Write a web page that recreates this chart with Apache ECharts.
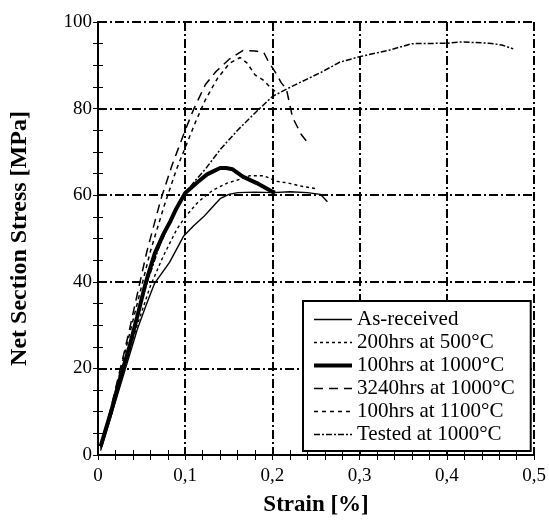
<!DOCTYPE html>
<html>
<head>
<meta charset="utf-8">
<script src="https://cdn.jsdelivr.net/npm/echarts@6/dist/echarts.min.js"></script>
<style>
  html, body { margin: 0; padding: 0; background: #fff; }
  #chart { width: 549px; height: 523px; }
</style>
</head>
<body>
<div id="chart"></div>
<script>
// tick labels
var xTickLabels = ["0", "0,1", "0,2", "0,3", "0,4", "0,5"];
var yTickLabels = ["0", "20", "40", "60", "80", "100"];

// [strain %, stress MPa]
var asReceived = [
  [0.003, 1], [0.015, 9], [0.03, 19], [0.045, 29], [0.055, 34.5], [0.065, 39.7],
  [0.082, 44.5], [0.098, 50.5], [0.11, 53], [0.121, 55], [0.13, 57], [0.14, 59.2],
  [0.15, 60.2], [0.16, 60.6], [0.18, 60.7], [0.2, 60.6], [0.22, 60.8], [0.24, 60.6],
  [0.255, 60.2], [0.263, 58.5]
];
var hrs200At500 = [
  [0.003, 1.5], [0.015, 9], [0.03, 20], [0.045, 30], [0.06, 39], [0.075, 46],
  [0.09, 52], [0.1, 55], [0.115, 58.5], [0.132, 61.2], [0.148, 62.8], [0.16, 63.5],
  [0.174, 64.5], [0.19, 64.5], [0.205, 63.2], [0.218, 62.8], [0.235, 62], [0.25, 61.5]
];
var hrs100At1000 = [
  [0.003, 2], [0.015, 10], [0.025, 17.5], [0.036, 25], [0.045, 32], [0.055, 40],
  [0.065, 46.5], [0.075, 51], [0.083, 54], [0.09, 57], [0.1, 60.5], [0.114, 63],
  [0.125, 64.8], [0.132, 65.5], [0.14, 66.3], [0.147, 66.3], [0.154, 66],
  [0.166, 64.3], [0.182, 62.8], [0.2, 60.8], [0.203, 60.6]
];
var hrs3240At1000 = [
  [0.003, 2], [0.015, 11], [0.028, 22], [0.035, 28], [0.046, 38], [0.056, 47],
  [0.072, 59], [0.085, 67], [0.1, 75], [0.11, 80], [0.123, 85.5], [0.135, 88.5],
  [0.151, 91.5], [0.166, 93.4], [0.18, 93.3], [0.19, 93], [0.195, 91], [0.203, 88.5],
  [0.21, 86], [0.216, 84.5], [0.223, 78], [0.233, 74], [0.243, 71.5]
];
var hrs100At1100 = [
  [0.003, 2], [0.015, 10.5], [0.03, 23], [0.045, 35], [0.06, 47], [0.075, 57],
  [0.09, 66], [0.1, 71], [0.112, 77], [0.123, 82], [0.137, 87], [0.151, 90.5],
  [0.163, 91.8], [0.171, 90.5], [0.18, 87.8], [0.19, 86.5], [0.197, 85], [0.203, 84]
];
var testedAt1000 = [
  [0.003, 2], [0.015, 10.5], [0.03, 21], [0.045, 32], [0.055, 39], [0.07, 48],
  [0.085, 55], [0.1, 60.5], [0.112, 63.5], [0.123, 66], [0.14, 70.5], [0.16, 75],
  [0.18, 79], [0.2, 82.8], [0.223, 85.2], [0.256, 88.4], [0.277, 90.7], [0.3, 92],
  [0.334, 93.5], [0.36, 95], [0.4, 95.1], [0.417, 95.4], [0.448, 95.1],
  [0.463, 94.7], [0.476, 93.8]
];

var seriesNames = [
  "As-received",
  "200hrs at 500°C",
  "100hrs at 1000°C",
  "3240hrs at 1000°C",
  "100hrs at 1100°C",
  "Tested at 1000°C"
];

var font = "Liberation Serif";
var gridDash = [9, 3, 2, 3];
var styles = [
  { width: 1.4, type: "solid" },
  { width: 1.4, type: [3, 3] },
  { width: 4, type: "solid" },
  { width: 1.5, type: [9, 6] },
  { width: 1.5, type: [4, 4] },
  { width: 1.5, type: [6, 2, 2, 2] }
];

function line(i, data) {
  return {
    name: seriesNames[i],
    type: "line",
    data: data,
    symbol: "none",
    smooth: false,
    animation: false,
    itemStyle: { color: "#000" },
    lineStyle: { color: "#000", width: styles[i].width, type: styles[i].type }
  };
}

var myChart = echarts.init(document.getElementById("chart"));

var option = {
  animation: false,
  backgroundColor: "#fff",
  grid: { left: 97, right: 13, top: 22, bottom: 68, containLabel: false },
  legend: {
    data: seriesNames.map(function (n, i) {
      return {
        name: n,
        itemStyle: { opacity: 0 },
        lineStyle: { color: "#000", width: styles[i].width, type: styles[i].type }
      };
    }),
    orient: "vertical",
    left: 303,
    top: 301,
    padding: [8, 16, 6, 9],
    itemWidth: 38,
    itemHeight: 10,
    itemGap: 2,
    backgroundColor: "#fff",
    borderColor: "#000",
    borderWidth: 2,
    textStyle: { fontFamily: font, fontSize: 21, color: "#000", lineHeight: 21 }
  },
  xAxis: [
    {
      type: "value",
      min: 0,
      max: 0.5,
      interval: 0.1,
      name: "Strain [%]",
      nameLocation: "middle",
      nameGap: 39,
      nameTextStyle: { fontFamily: font, fontSize: 23, fontWeight: "bold", color: "#000" },
      axisLine: { lineStyle: { color: "#000", width: 2 } },
      axisTick: { inside: true, length: 5, lineStyle: { color: "#000" } },
      minorTick: { show: true, splitNumber: 5, length: 5, lineStyle: { color: "#000" } },
      axisLabel: {
        margin: 12,
        fontFamily: font,
        fontSize: 19,
        color: "#000",
        showMaxLabel: true,
        formatter: function (v) { return xTickLabels[Math.round(v * 10)]; }
      },
      splitLine: { show: true, lineStyle: { color: "#000", width: 2, type: gridDash } }
    },
    {
      type: "value",
      position: "top",
      min: 0,
      max: 0.5,
      interval: 0.1,
      axisLine: { lineStyle: { color: "#000", width: 2 } },
      axisTick: { inside: true, length: 5, lineStyle: { color: "#000" } },
      minorTick: { show: true, splitNumber: 5, length: 5, lineStyle: { color: "#000" } },
      axisLabel: { show: false },
      splitLine: { show: false }
    }
  ],
  yAxis: [
    {
      type: "value",
      min: 0,
      max: 100,
      interval: 20,
      name: "Net Section Stress [MPa]",
      nameLocation: "middle",
      nameGap: 66,
      nameTextStyle: { fontFamily: font, fontSize: 24, fontWeight: "bold", color: "#000" },
      axisLine: { lineStyle: { color: "#000", width: 2 } },
      axisTick: { inside: true, length: 5, lineStyle: { color: "#000" } },
      minorTick: { show: true, splitNumber: 4, length: 5, lineStyle: { color: "#000" } },
      axisLabel: {
        margin: 6,
        fontFamily: font,
        fontSize: 19,
        color: "#000",
        formatter: function (v) { return yTickLabels[Math.round(v / 20)]; }
      },
      splitLine: { show: true, lineStyle: { color: "#000", width: 2, type: gridDash } }
    },
    {
      type: "value",
      position: "right",
      min: 0,
      max: 100,
      interval: 20,
      axisLine: { lineStyle: { color: "#000", width: 2 } },
      axisTick: { inside: true, length: 5, lineStyle: { color: "#000" } },
      minorTick: { show: true, splitNumber: 4, length: 5, lineStyle: { color: "#000" } },
      axisLabel: { show: false },
      splitLine: { show: false }
    }
  ],
  series: [
    line(0, asReceived),
    line(1, hrs200At500),
    line(2, hrs100At1000),
    line(3, hrs3240At1000),
    line(4, hrs100At1100),
    line(5, testedAt1000)
  ]
};

myChart.setOption(option);
</script>
</body>
</html>
